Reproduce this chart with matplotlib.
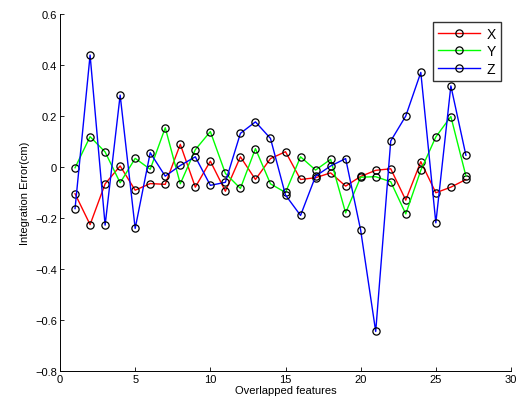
import matplotlib
matplotlib.use("Agg")
import matplotlib.pyplot as plt

plt.rcParams["font.family"] = ["Liberation Sans", "DejaVu Sans"]

# overlapped feature index
features = list(range(1, 28))

# integration error per axis (cm)
err_x = [-0.105, -0.226, -0.066, 0.004, -0.091, -0.065, -0.068, 0.089, -0.079,
         0.023, -0.095, 0.040, -0.049, 0.033, 0.060, -0.049, -0.042, -0.023,
         -0.075, -0.037, -0.013, -0.007, -0.130, 0.021, -0.101, -0.079, -0.049]
err_y = [-0.003, 0.119, 0.059, -0.062, 0.034, -0.009, 0.154, -0.066, 0.068,
         0.139, -0.025, -0.084, 0.072, -0.066, -0.100, 0.040, -0.012, 0.030,
         -0.180, -0.040, -0.038, -0.058, -0.184, -0.013, 0.118, 0.198, -0.035]
err_z = [-0.163, 0.439, -0.228, 0.282, -0.241, 0.056, -0.036, 0.006, 0.040,
         -0.072, -0.060, 0.132, 0.177, 0.112, -0.110, -0.190, -0.036, 0.004,
         0.033, -0.248, -0.645, 0.102, 0.200, 0.371, -0.219, 0.318, 0.046]

labels = ["X", "Y", "Z"]
colors = ["#ff0000", "#00ff00", "#0000ff"]

fig = plt.figure(figsize=(5.21, 4.10), dpi=100)
ax = fig.add_axes([0.1152, 0.0927, 0.8656, 0.8707])

for ys, lab, c in zip([err_x, err_y, err_z], labels, colors):
    ax.plot(features, ys, color=c, lw=1.0, marker="o", markersize=5.2,
            markerfacecolor="none", markeredgecolor="black",
            markeredgewidth=0.9, label=lab)

ax.set_xlim(0, 30)
ax.set_ylim(-0.8, 0.6)
ax.set_xticks(range(0, 31, 5))
ax.set_yticks([-0.8, -0.6, -0.4, -0.2, 0, 0.2, 0.4, 0.6])
ax.set_yticklabels(["\u22120.8", "\u22120.6", "\u22120.4", "\u22120.2",
                    "0", "0.2", "0.4", "0.6"])
ax.tick_params(direction="in", labelsize=8, length=3, width=0.6, pad=2)
for s in ["top", "right"]:
    ax.spines[s].set_visible(False)
for s in ["left", "bottom"]:
    ax.spines[s].set_linewidth(0.7)

ax.set_xlabel("Overlapped features", fontsize=8, labelpad=1)
ax.set_ylabel("Integration Error(cm)", fontsize=8, labelpad=4)

leg = ax.legend(loc="upper right", bbox_to_anchor=(0.978, 0.978), fontsize=10,
                frameon=True, fancybox=False, handlelength=3.0,
                borderpad=0.35, labelspacing=0.25, handletextpad=0.5,
                borderaxespad=0)
leg.get_frame().set_edgecolor("black")
leg.get_frame().set_linewidth(1.0)

fig.savefig("out.png", dpi=100)
